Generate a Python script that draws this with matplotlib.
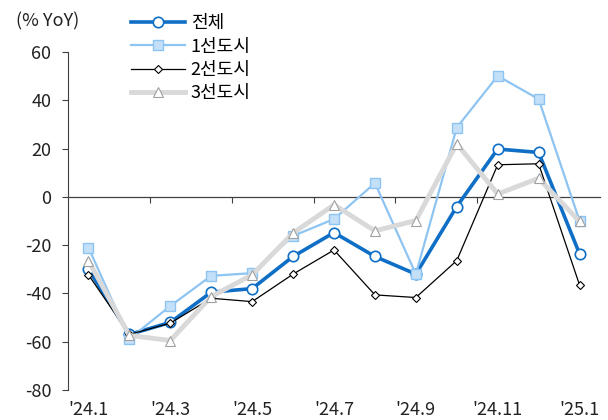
import numpy as np
import matplotlib.pyplot as plt

plt.rcParams['font.family'] = ['Noto Sans CJK KR', 'DejaVu Sans']
plt.rcParams['axes.unicode_minus'] = False

months = ["'24.1", "'24.2", "'24.3", "'24.4", "'24.5", "'24.6", "'24.7",
          "'24.8", "'24.9", "'24.10", "'24.11", "'24.12", "'25.1"]
total = [-30, -57, -52, -39.5, -38, -24.7, -14.8, -24.7, -32, -4, 19.8, 18.4, -23.6]
tier1 = [-21, -58.8, -45.2, -32.7, -31.6, -16.2, -9.2, 5.7, -32, 28.7, 50.1, 40.5, -9.9]
tier2 = [-32.3, -57, -52.3, -42, -43.4, -32, -22, -40.6, -41.7, -26.4, 13.3, 13.7, -36.5]
tier3 = [-26.4, -57.4, -59.5, -41.3, -32.3, -15, -3.3, -14.1, -9.8, 22, 1.2, 7.7, -10.2]

x = np.arange(len(months))
fs = 13

fig = plt.figure(figsize=(6.08, 4.2), dpi=100)
ax = fig.add_axes([68/608, 30/420, 532/608, 338/420])

ax.plot(x, total, color='#0F6FC6', lw=2.6, marker='o', ms=7.5,
        mfc='white', mec='#0F6FC6', mew=1.2, label='전체', zorder=3)
ax.plot(x, tier1, color='#8EC4F2', lw=1.6, marker='s', ms=7,
        mfc='#C4E0F9', mec='#8EC4F2', mew=1.0, label='1선도시', zorder=4)
ax.plot(x, tier2, color='black', lw=0.9, marker='D', ms=4.5,
        mfc='white', mec='black', mew=0.8, label='2선도시', zorder=5)
ax.plot(x, tier3, color='#D9D9D9', lw=3.5, marker='^', ms=7,
        mfc='white', mec='#A0A0A0', mew=0.8, label='3선도시', zorder=6)

ax.set_xlim(-0.5, len(months) - 0.5)
ax.set_ylim(-80, 60)
ax.set_yticks(range(-80, 61, 20))
ax.tick_params(axis='y', length=4, color='#404040', labelsize=fs,
               labelcolor='#222222', pad=8)

for s in ['top', 'right']:
    ax.spines[s].set_visible(False)
ax.spines['left'].set_color('#404040')
ax.spines['bottom'].set_position(('data', 0))
ax.spines['bottom'].set_color('#404040')
ax.spines['bottom'].set_linewidth(0.9)

# tick marks on the zero line between every second month
ax.set_xticks(np.arange(1.5, len(months) - 1, 2))
ax.tick_params(axis='x', length=4, color='#404040', labelbottom=False)

trans = ax.get_xaxis_transform()
for i in range(0, len(months), 2):
    ax.text(i, -0.06, months[i], transform=trans, ha='center', va='center',
            fontsize=fs, color='#222222')

fig.text(16/608, 1 - 21/420, '(% YoY)', fontsize=fs, color='#222222',
         ha='left', va='center')

ax.legend(loc='upper left', bbox_to_anchor=(124/608, 1 - 7/420),
          bbox_transform=fig.transFigure, frameon=False, fontsize=fs,
          handlelength=3.0, labelspacing=0.3, handletextpad=0.3,
          borderaxespad=0)

fig.savefig('out.png', dpi=100)
